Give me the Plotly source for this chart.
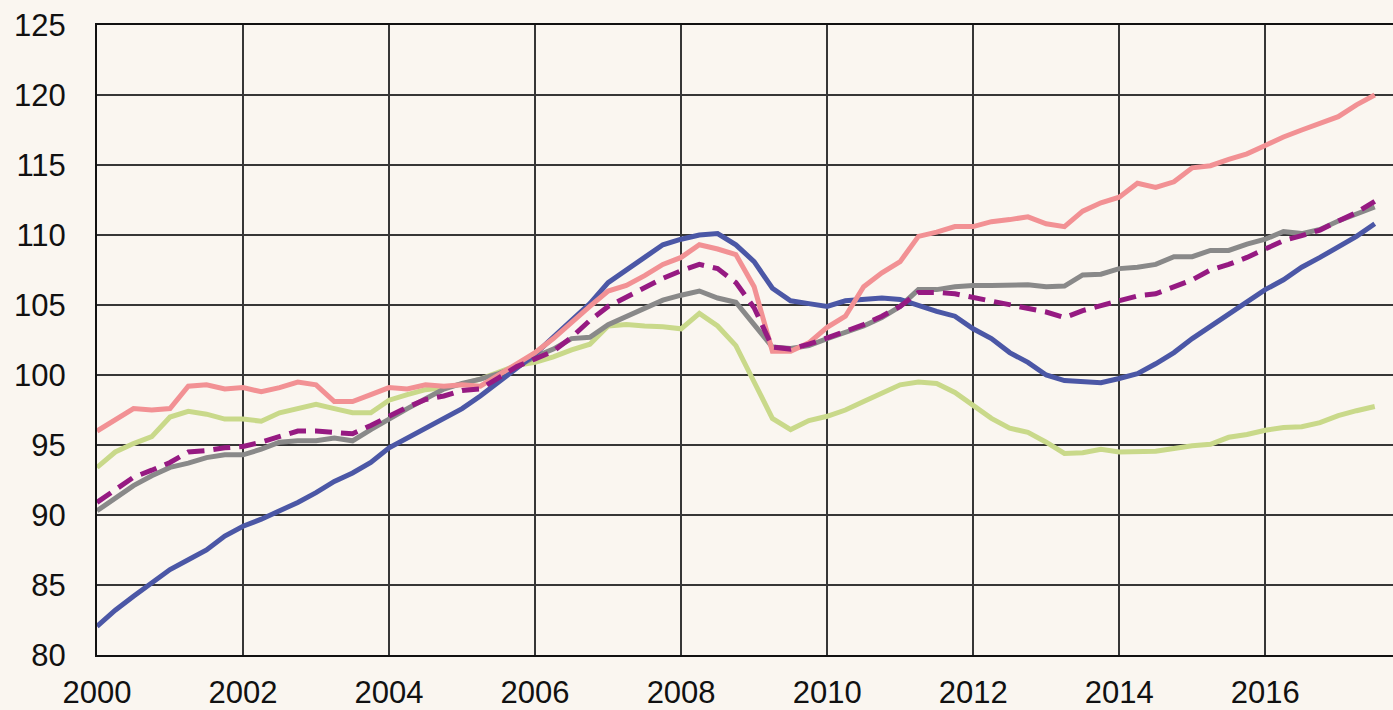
import plotly.graph_objects as go

start_year = 2000
quarters = [start_year + i * 0.25 for i in range(71)]

pink = [96.0, 96.8, 97.6, 97.5,
        97.6, 99.2, 99.3, 99.0,
        99.1, 98.8, 99.1, 99.5,
        99.3, 98.1, 98.1, 98.6,
        99.1, 99.0, 99.3, 99.2,
        99.3, 99.2, 100.0, 100.8,
        101.6, 102.6, 103.8, 104.9,
        106.0, 106.4, 107.1, 107.9,
        108.4, 109.3, 109.0, 108.6,
        106.3, 101.7, 101.7, 102.3,
        103.4, 104.2, 106.3, 107.3,
        108.1, 109.9, 110.2, 110.6,
        110.6, 110.95, 111.1, 111.3,
        110.8, 110.6, 111.7, 112.3,
        112.7, 113.7, 113.4, 113.8,
        114.8, 114.95, 115.4, 115.8,
        116.4, 117.0, 117.5, 118.0,
        118.45, 119.3, 120.0]

blue = [82.05, 83.2, 84.2, 85.1,
        86.1, 86.8, 87.5, 88.5,
        89.2, 89.7, 90.3, 90.9,
        91.6, 92.4, 93.0, 93.75,
        94.8, 95.5, 96.2, 97.0,
        97.6, 98.5, 99.5, 100.4,
        101.5, 102.7, 103.9, 105.1,
        106.6, 107.45, 108.4, 109.3,
        109.7, 110.0, 110.1, 109.3,
        108.1, 106.2, 105.3, 105.1,
        104.9, 105.3, 105.4, 105.5,
        105.4, 104.95, 104.55, 104.2,
        103.3, 102.6, 101.6, 100.9,
        100.0, 99.6, 99.5, 99.45,
        99.75, 100.1, 100.8, 101.6,
        102.6, 103.5, 104.4, 105.3,
        106.1, 106.8, 107.7, 108.4,
        109.1, 109.9, 110.8]

gray = [90.3, 91.2, 92.1, 92.8,
        93.4, 93.7, 94.1, 94.3,
        94.3, 94.7, 95.2, 95.3,
        95.3, 95.5, 95.3, 96.1,
        96.9, 97.6, 98.3, 99.0,
        99.4, 99.7, 100.1, 100.6,
        101.3, 101.85, 102.6, 102.7,
        103.6, 104.2, 104.8, 105.35,
        105.7, 106.0, 105.5, 105.2,
        103.6, 102.0, 101.9, 102.1,
        102.6, 103.05, 103.5, 104.1,
        104.9, 106.1, 106.1, 106.3,
        106.4, 106.4, 106.4, 106.45,
        106.3, 106.35, 107.15, 107.2,
        107.6, 107.7, 107.9, 108.45,
        108.45, 108.9, 108.9, 109.35,
        109.7, 110.25, 110.1, 110.4,
        111.0, 111.5, 112.0]

green = [93.4, 94.5, 95.1, 95.6,
         97.0, 97.4, 97.2, 96.85,
         96.85, 96.7, 97.3, 97.6,
         97.9, 97.6, 97.3, 97.3,
         98.2, 98.6, 98.95, 99.1,
         99.35, 99.7, 100.2, 100.7,
         100.9, 101.3, 101.8, 102.2,
         103.5, 103.6, 103.5, 103.45,
         103.3, 104.4, 103.5, 102.1,
         99.5, 96.9, 96.1, 96.75,
         97.05, 97.5, 98.1, 98.7,
         99.3, 99.5, 99.4, 98.75,
         97.8, 96.9, 96.2, 95.9,
         95.2, 94.4, 94.45, 94.7,
         94.5, 94.5, 94.55, 94.75,
         94.95, 95.05, 95.55, 95.75,
         96.05, 96.25, 96.3, 96.6,
         97.1, 97.45, 97.75]

purple = [90.9, 91.8, 92.7, 93.2,
          93.75, 94.5, 94.6, 94.8,
          94.9, 95.2, 95.6, 96.0,
          96.0, 95.9, 95.8, 96.4,
          97.1, 97.7, 98.25, 98.5,
          98.9, 99.0, 99.8, 100.6,
          101.15, 101.7, 102.7, 103.9,
          104.9, 105.6, 106.2, 106.9,
          107.45, 107.9, 107.6, 106.6,
          104.8, 102.0, 101.85, 102.2,
          102.65, 103.1, 103.6, 104.2,
          104.9, 105.9, 105.9, 105.8,
          105.55, 105.3, 105.0, 104.8,
          104.5, 104.1, 104.6, 104.95,
          105.3, 105.65, 105.8, 106.3,
          106.8, 107.5, 107.9, 108.4,
          109.0, 109.6, 109.95, 110.35,
          111.0, 111.6, 112.4]

x_ticks = [2000, 2002, 2004, 2006, 2008, 2010, 2012, 2014, 2016]
y_ticks = [80, 85, 90, 95, 100, 105, 110, 115, 120, 125]

bg = "#faf6f0"

fig = go.Figure()
series = [
    (green, "#c9d98a", "solid"),
    (gray, "#898989", "solid"),
    (blue, "#4b57a6", "solid"),
    (pink, "#f29194", "solid"),
    (purple, "#961a82", "17px,9px"),
]
for vals, color, dash in series:
    fig.add_trace(go.Scatter(
        x=quarters, y=vals, mode="lines",
        line=dict(color=color, width=5, dash=dash),
        showlegend=False, hoverinfo="skip"))

font = dict(family="Liberation Sans, Arial, sans-serif", size=31, color="#111111")

fig.update_layout(
    width=1393, height=710,
    margin=dict(l=97, r=0, t=25, b=55),
    paper_bgcolor=bg, plot_bgcolor=bg,
    font=font,
    xaxis=dict(
        range=[2000, 2017.75], tickvals=x_ticks, ticktext=[str(v) for v in x_ticks],
        showgrid=True, gridcolor="#363636", gridwidth=1.5,
        showline=True, linecolor="#111111", linewidth=2, mirror=True,
        ticks="", ticklabelstandoff=9, zeroline=False, tickfont=font),
    yaxis=dict(
        range=[80, 125], tickvals=y_ticks, ticktext=[str(v) for v in y_ticks],
        showgrid=True, gridcolor="#363636", gridwidth=1.5,
        showline=True, linecolor="#111111", linewidth=2,
        ticks="", ticklabelstandoff=23, zeroline=False, tickfont=font),
)

fig.write_html(
    "out.html",
    config={"displayModeBar": False},
    post_script="document.body.style.margin='0';document.body.style.background='%s';"
                "document.body.style.overflow='hidden';" % bg,
)
